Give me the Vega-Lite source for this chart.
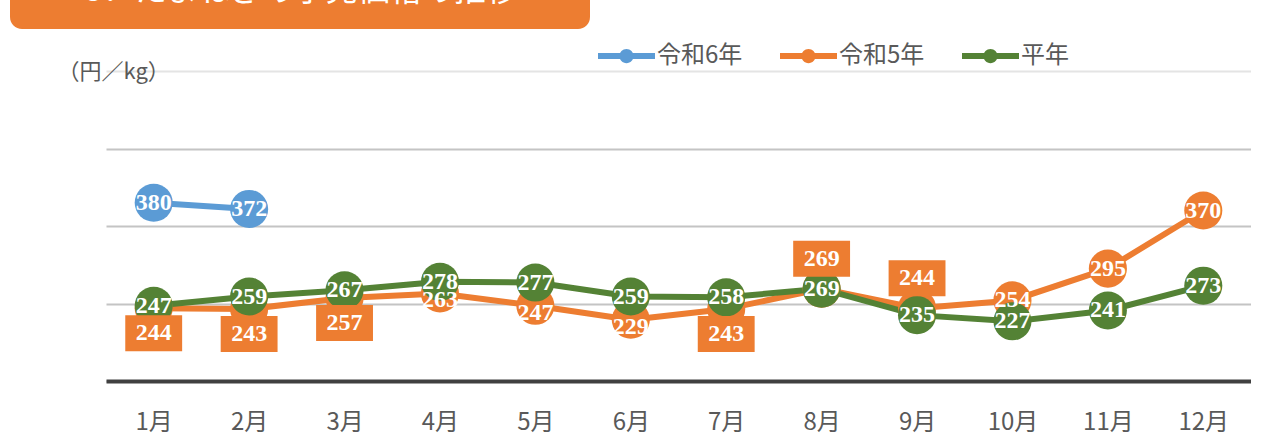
{
  "$schema": "https://vega.github.io/schema/vega-lite/v6.json",
  "background": "white",
  "padding": {"left": 10, "top": -25, "right": 0, "bottom": 4},
  "spacing": 14,
  "config": {"view": {"stroke": null}, "font": "Noto Sans CJK JP"},
  "resolve": {"legend": {"color": "independent"}},
  "datasets": {
    "tab": [{"title": "5．たまねぎの小売価格の推移"}],
    "prices": [
      {"series": "令和6年", "month": "1月", "price": 380},
      {"series": "令和6年", "month": "2月", "price": 372},
      {"series": "令和5年", "month": "1月", "price": 244},
      {"series": "令和5年", "month": "2月", "price": 243},
      {"series": "令和5年", "month": "3月", "price": 257},
      {"series": "令和5年", "month": "4月", "price": 263},
      {"series": "令和5年", "month": "5月", "price": 247},
      {"series": "令和5年", "month": "6月", "price": 229},
      {"series": "令和5年", "month": "7月", "price": 243},
      {"series": "令和5年", "month": "8月", "price": 269},
      {"series": "令和5年", "month": "9月", "price": 244},
      {"series": "令和5年", "month": "10月", "price": 254},
      {"series": "令和5年", "month": "11月", "price": 295},
      {"series": "令和5年", "month": "12月", "price": 370},
      {"series": "平年", "month": "1月", "price": 247},
      {"series": "平年", "month": "2月", "price": 259},
      {"series": "平年", "month": "3月", "price": 267},
      {"series": "平年", "month": "4月", "price": 278},
      {"series": "平年", "month": "5月", "price": 277},
      {"series": "平年", "month": "6月", "price": 259},
      {"series": "平年", "month": "7月", "price": 258},
      {"series": "平年", "month": "8月", "price": 269},
      {"series": "平年", "month": "9月", "price": 235},
      {"series": "平年", "month": "10月", "price": 227},
      {"series": "平年", "month": "11月", "price": 241},
      {"series": "平年", "month": "12月", "price": 273}
    ]
  },
  "vconcat": [
    {
      "width": 580,
      "height": 42,
      "data": {"name": "tab"},
      "view": {"fill": "#ED7D31", "stroke": null, "cornerRadius": 12},
      "mark": {"type": "text", "color": "white", "fontSize": 32, "font": "Noto Sans CJK JP", "align": "left", "baseline": "alphabetic", "dx": -215, "dy": -7},
      "encoding": {"text": {"field": "title"}}
    },
    {
      "width": 1241,
      "height": 310,
      "data": {"name": "prices"},
      "encoding": {
        "x": {
          "field": "month", "type": "ordinal",
          "sort": ["1月","2月","3月","4月","5月","6月","7月","8月","9月","10月","11月","12月"],
          "scale": {"type": "point", "padding": 0.5, "range": [96, 1241]},
          "axis": {"title": null, "domainColor": "#404040", "domainWidth": 4, "ticks": false, "grid": false,
                   "labelFontSize": 24, "labelColor": "#595959", "labelPadding": 29, "labelAngle": 0, "labelFont": "Noto Sans CJK JP"}
        },
        "y": {
          "field": "price", "type": "quantitative",
          "scale": {"domain": [150, 550], "nice": false, "zero": false},
          "axis": {"title": "（円／kg）", "values": [150, 250, 350, 450, 550], "labels": false, "domain": false,
                   "ticks": false,
                   "grid": true, "gridWidth": 2,
                   "gridColor": {"condition": {"test": "datum.value === 550", "value": "#E4E4E4"}, "value": "#C4C4C4"},
                   "titleAngle": 0, "titleX": 47, "titleY": 0, "titleAlign": "left", "titleBaseline": "middle",
                   "titleFontSize": 22, "titleFontWeight": "normal", "titleColor": "#595959", "titleFont": "Noto Sans CJK JP"}
        },
        "color": {
          "field": "series", "type": "nominal",
          "scale": {"domain": ["令和6年", "令和5年", "平年"], "range": ["#5B9BD5", "#ED7D31", "#548235"]},
          "legend": {
            "title": null, "orient": "none", "legendX": 588, "legendY": -28, "direction": "horizontal", "columns": 3,
            "padding": 0, "clipHeight": 26,
            "symbolType": "M-1,-0.105H1V0.105H-1Z M-0.25,0A0.25,0.25 0 1,1 0.25,0A0.25,0.25 0 1,1 -0.25,0Z",
            "symbolSize": 3249, "symbolStrokeWidth": 0, "symbolOpacity": 1,
            "labelFontSize": 24, "labelColor": "#595959", "labelOffset": 2, "columnPadding": 37, "labelFont": "Noto Sans CJK JP",
            "encode": {"symbols": {"update": {"fill": {"scale": "color", "field": "value"}, "stroke": {"value": "transparent"}, "opacity": {"value": 1}}}}
          }
        }
      },
      "layer": [
        {"mark": {"type": "line", "strokeWidth": 6, "strokeJoin": "round"}},
        {"mark": {"type": "point", "filled": true, "size": 1450, "opacity": 1}},
        {
          "transform": [{"filter": {"and": [{"field": "series", "equal": "令和5年"}, {"field": "month", "oneOf": ["1月","2月","3月","7月"]}]}}],
          "mark": {"type": "point", "filled": true, "opacity": 1, "size": 1296, "shape": "M-1.58,-1H1.58V1H-1.58Z", "yOffset": 25}
        },
        {
          "transform": [{"filter": {"and": [{"field": "series", "equal": "令和5年"}, {"field": "month", "oneOf": ["8月","9月"]}]}}],
          "mark": {"type": "point", "filled": true, "opacity": 1, "size": 1296, "shape": "M-1.58,-1H1.58V1H-1.58Z", "yOffset": -30}
        },
        {
          "transform": [{"filter": {"not": {"and": [{"field": "series", "equal": "令和5年"}, {"field": "month", "oneOf": ["1月","2月","3月","4月","5月","6月","7月","8月","9月"]}]}}}],
          "mark": {"type": "text", "font": "Liberation Serif", "fontWeight": "bold", "fontSize": 24, "baseline": "middle"},
          "encoding": {"text": {"field": "price", "type": "quantitative"}, "color": {"value": "white"}}
        },
        {
          "transform": [{"filter": {"and": [{"field": "series", "equal": "令和5年"}, {"field": "month", "oneOf": ["4月","5月","6月"]}]}}],
          "mark": {"type": "text", "font": "Liberation Serif", "fontWeight": "bold", "fontSize": 24, "baseline": "middle", "yOffset": 7},
          "encoding": {"text": {"field": "price", "type": "quantitative"}, "color": {"value": "white"}}
        },
        {
          "transform": [{"filter": {"and": [{"field": "series", "equal": "令和5年"}, {"field": "month", "oneOf": ["1月","2月","3月","7月"]}]}}],
          "mark": {"type": "text", "font": "Liberation Serif", "fontWeight": "bold", "fontSize": 24, "baseline": "middle", "yOffset": 25},
          "encoding": {"text": {"field": "price", "type": "quantitative"}, "color": {"value": "white"}}
        },
        {
          "transform": [{"filter": {"and": [{"field": "series", "equal": "令和5年"}, {"field": "month", "oneOf": ["8月","9月"]}]}}],
          "mark": {"type": "text", "font": "Liberation Serif", "fontWeight": "bold", "fontSize": 24, "baseline": "middle", "yOffset": -30},
          "encoding": {"text": {"field": "price", "type": "quantitative"}, "color": {"value": "white"}}
        }
      ]
    }
  ]
}
